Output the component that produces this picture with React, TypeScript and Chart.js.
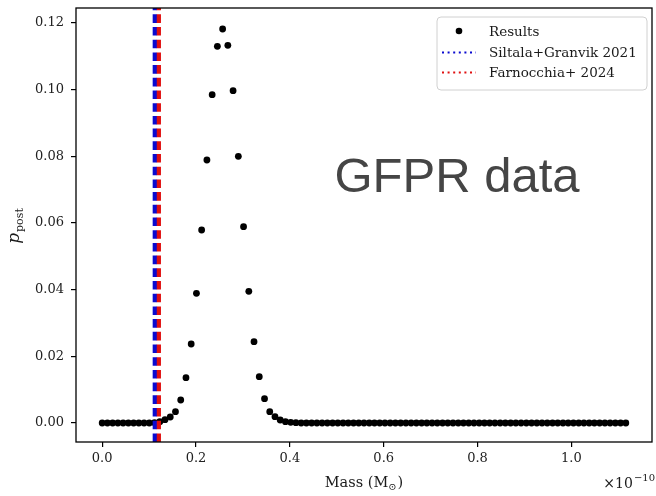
import React, { useEffect, useRef } from "react";
import { Chart, registerables } from "chart.js";

Chart.register(...registerables);

// Mass grid (units of 1e-10 solar masses)
const massGrid = [
  0.0, 0.0112, 0.0223, 0.0335, 0.0446, 0.0558, 0.067, 0.0781, 0.0893, 0.1004,
  0.1116, 0.1228, 0.1339, 0.1451, 0.1562, 0.1674, 0.1786, 0.1897, 0.2009, 0.212,
  0.2232, 0.2344, 0.2455, 0.2567, 0.2678, 0.279, 0.2902, 0.3013, 0.3125, 0.3236,
  0.3348, 0.346, 0.3571, 0.3683, 0.3794, 0.3906, 0.4018, 0.4129, 0.4241, 0.4352,
  0.4464, 0.4576, 0.4687, 0.4799, 0.491, 0.5022, 0.5134, 0.5245, 0.5357, 0.5468,
  0.558, 0.5692, 0.5803, 0.5915, 0.6026, 0.6138, 0.625, 0.6361, 0.6473, 0.6584,
  0.6696, 0.6808, 0.6919, 0.7031, 0.7142, 0.7254, 0.7366, 0.7477, 0.7589, 0.77,
  0.7812, 0.7924, 0.8035, 0.8147, 0.8258, 0.837, 0.8482, 0.8593, 0.8705, 0.8816,
  0.8928, 0.904, 0.9151, 0.9263, 0.9374, 0.9486, 0.9598, 0.9709, 0.9821, 0.9932,
  1.0044, 1.0156, 1.0267, 1.0379, 1.049, 1.0602, 1.0714, 1.0825, 1.0937, 1.1048,
  1.116,
];

// Posterior probability at each mass
const pPost = [
  0, 0, 0, 0, 0, 0, 0, 0, 0, 0,
  0.0001, 0.0004, 0.001, 0.0018, 0.0034, 0.0069, 0.0136, 0.0237, 0.0389, 0.0579,
  0.0789, 0.0985, 0.113, 0.1182, 0.1133, 0.0997, 0.08, 0.0589, 0.0395, 0.0244,
  0.0139, 0.0073, 0.0034, 0.0019, 0.0009, 0.0004, 0.0002, 0.0001, 0, 0,
  0, 0, 0, 0, 0, 0, 0, 0, 0, 0,
  0, 0, 0, 0, 0, 0, 0, 0, 0, 0,
  0, 0, 0, 0, 0, 0, 0, 0, 0, 0,
  0, 0, 0, 0, 0, 0, 0, 0, 0, 0,
  0, 0, 0, 0, 0, 0, 0, 0, 0, 0,
  0, 0, 0, 0, 0, 0, 0, 0, 0, 0,
  0,
];

const siltalaMass = 0.1123;
const farnocchiaMass = 0.1208;

const xTickValues = [0.0, 0.2, 0.4, 0.6, 0.8, 1.0];
const yTickValues = [0.0, 0.02, 0.04, 0.06, 0.08, 0.1, 0.12];

const legendLabels = ["Results", "Siltala+Granvik 2021", "Farnocchia+ 2024"];
const annotationText = "GFPR data";
const xTitleMain = "Mass (M";
const xTitleSub = "\u2299";
const yTitleMain = "p";
const yTitleSub = "post";
const offsetBase = "\u00d710";
const offsetExp = "\u221210";

const X_MIN = -0.0558;
const X_MAX = 1.1718;
const Y_MIN = -0.0057;
const Y_MAX = 0.1245;

const BLUE = "#0a0ad0";
const RED = "#e01010";
const SERIF = '"DejaVu Serif", "Liberation Serif", serif';

const decorPlugin = {
  id: "decor",
  afterDraw(chart: any) {
    const { ctx, chartArea: a } = chart;
    ctx.save();

    // frame
    ctx.strokeStyle = "#000";
    ctx.lineWidth = 1.3;
    ctx.setLineDash([]);
    ctx.strokeRect(a.left, a.top, a.right - a.left, a.bottom - a.top);

    // annotation text
    ctx.fillStyle = "#454545";
    ctx.font = '49px "Liberation Sans", Arial, sans-serif';
    ctx.textAlign = "center";
    ctx.textBaseline = "middle";
    ctx.fillText(annotationText, 457, 178);

    // legend
    const lx = 437, ly = 17, lw = 210, lh = 73;
    ctx.beginPath();
    if ((ctx as any).roundRect) (ctx as any).roundRect(lx, ly, lw, lh, 4);
    else ctx.rect(lx, ly, lw, lh);
    ctx.fillStyle = "rgba(255,255,255,0.85)";
    ctx.fill();
    ctx.strokeStyle = "#d0d0d0";
    ctx.lineWidth = 1;
    ctx.stroke();

    const rows = [31, 52.5, 72.5];
    ctx.fillStyle = "#000";
    ctx.beginPath();
    ctx.arc(459, rows[0], 3.3, 0, Math.PI * 2);
    ctx.fill();

    ctx.lineWidth = 2;
    ctx.setLineDash([2, 3.6]);
    ctx.strokeStyle = BLUE;
    ctx.beginPath();
    ctx.moveTo(442, rows[1]);
    ctx.lineTo(476, rows[1]);
    ctx.stroke();
    ctx.strokeStyle = RED;
    ctx.beginPath();
    ctx.moveTo(442, rows[2]);
    ctx.lineTo(476, rows[2]);
    ctx.stroke();
    ctx.setLineDash([]);

    ctx.fillStyle = "#1a1a1a";
    ctx.font = "13.5px " + SERIF;
    ctx.textAlign = "left";
    ctx.textBaseline = "middle";
    legendLabels.forEach((t, i) => ctx.fillText(t, 489, rows[i] + 1));

    // x title
    ctx.textBaseline = "alphabetic";
    ctx.font = "14.5px " + SERIF;
    const w1 = ctx.measureText(xTitleMain).width;
    const w3 = ctx.measureText(")").width;
    ctx.font = "10px " + SERIF;
    const w2 = ctx.measureText(xTitleSub).width;
    const total = w1 + w2 + w3 + 1;
    let x0 = (a.left + a.right) / 2 - total / 2;
    ctx.font = "14.5px " + SERIF;
    ctx.fillText(xTitleMain, x0, 487);
    ctx.font = "10px " + SERIF;
    ctx.fillText(xTitleSub, x0 + w1, 490);
    ctx.font = "14.5px " + SERIF;
    ctx.fillText(")", x0 + w1 + w2 + 1, 487);

    // offset text
    ctx.font = "10px " + SERIF;
    const we = ctx.measureText(offsetExp).width;
    ctx.fillText(offsetExp, 655 - we, 481);
    ctx.font = "14px " + SERIF;
    const wb = ctx.measureText(offsetBase).width;
    ctx.fillText(offsetBase, 655 - we - wb - 1, 488);

    // y title
    ctx.save();
    ctx.translate(19, (a.top + a.bottom) / 2 + 1);
    ctx.rotate(-Math.PI / 2);
    ctx.font = "italic 17px " + SERIF;
    const wp = ctx.measureText(yTitleMain).width;
    ctx.font = "11px " + SERIF;
    const ws = ctx.measureText(yTitleSub).width;
    const start = -(wp + ws + 1) / 2;
    ctx.font = "italic 17px " + SERIF;
    ctx.fillText(yTitleMain, start, 0);
    ctx.font = "11px " + SERIF;
    ctx.fillText(yTitleSub, start + wp + 1, 4);
    ctx.restore();

    ctx.restore();
  },
};

export default function App() {
  const ref = useRef<HTMLCanvasElement | null>(null);

  useEffect(() => {
    if (!ref.current) return;
    const points = massGrid.map((m, i) => ({ x: m, y: pPost[i] }));
    const vline = (m: number) => [
      { x: m, y: Y_MIN },
      { x: m, y: Y_MAX },
    ];
    const chart = new Chart(ref.current, {
      type: "scatter",
      data: {
        datasets: [
          {
            type: "line",
            label: legendLabels[2],
            data: vline(farnocchiaMass),
            borderColor: RED,
            borderWidth: 4.2,
            borderDash: [8.6, 4.1],
            pointRadius: 0,
            fill: false,
          } as any,
          {
            type: "line",
            label: legendLabels[1],
            data: vline(siltalaMass),
            borderColor: BLUE,
            borderWidth: 4.4,
            borderDash: [8.6, 4.1],
            pointRadius: 0,
            fill: false,
          } as any,
          {
            label: legendLabels[0],
            data: points,
            backgroundColor: "#000",
            borderWidth: 0,
            pointRadius: 3.4,
            showLine: false,
          },
        ],
      },
      options: {
        animation: false,
        responsive: false,
        layout: { padding: { left: 0, top: 8, right: 2, bottom: 0 } },
        plugins: {
          legend: { display: false },
          tooltip: { enabled: false },
        },
        scales: {
          x: {
            type: "linear",
            min: X_MIN,
            max: X_MAX,
            afterBuildTicks: (s: any) => {
              s.ticks = xTickValues.map((v) => ({ value: v }));
            },
            afterFit: (s: any) => {
              s.height = 54;
              s.paddingLeft = 0;
              s.paddingRight = 0;
            },
            ticks: {
              callback: (v: any) => Number(v).toFixed(1),
              font: { family: SERIF, size: 13 },
              color: "#222",
              padding: 4,
              maxRotation: 0,
            },
            grid: {
              display: true,
              drawOnChartArea: false,
              drawTicks: true,
              tickLength: 5,
              color: "#000",
              lineWidth: 1.2,
            },
            border: { display: false },
          },
          y: {
            type: "linear",
            min: Y_MIN,
            max: Y_MAX,
            afterBuildTicks: (s: any) => {
              s.ticks = yTickValues.map((v) => ({ value: v }));
            },
            afterFit: (s: any) => {
              s.width = 76;
              s.paddingTop = 0;
              s.paddingBottom = 0;
            },
            ticks: {
              callback: (v: any) => Number(v).toFixed(2),
              font: { family: SERIF, size: 13 },
              color: "#222",
              padding: 7,
            },
            grid: {
              display: true,
              drawOnChartArea: false,
              drawTicks: true,
              tickLength: 5,
              color: "#000",
              lineWidth: 1.2,
            },
            border: { display: false },
          },
        },
      },
      plugins: [decorPlugin],
    });
    return () => chart.destroy();
  }, []);

  return (
    <div style={{ position: "absolute", left: 0, top: 0, width: 656, height: 496, background: "#fff" }}>
      <canvas ref={ref} width={656} height={496} style={{ display: "block" }} />
    </div>
  );
}
